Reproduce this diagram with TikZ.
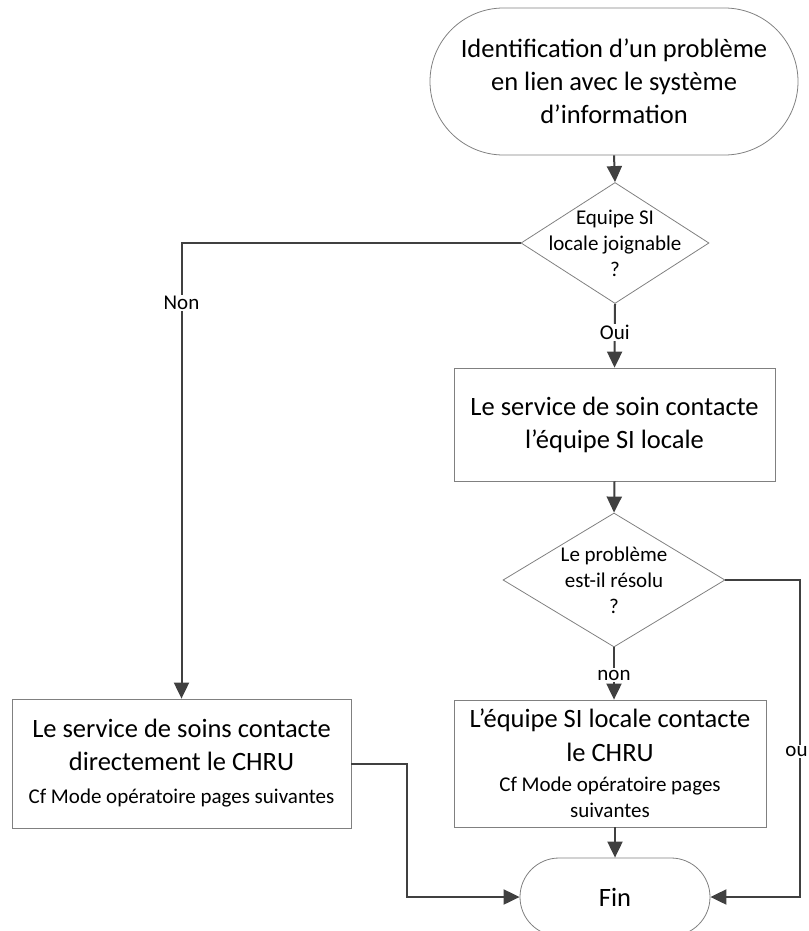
\documentclass[tikz,border=0pt]{standalone}
\usepackage{fontspec}
\setmainfont{Carlito}
\usetikzlibrary{shapes.geometric,shapes.misc,arrows.meta}
\definecolor{lnk}{HTML}{404040}
\definecolor{brd}{HTML}{808080}
\newcommand{\bigtxt}{\fontsize{26.5}{33}\selectfont}
\newcommand{\midtxt}{\fontsize{21}{26}\selectfont}

\begin{document}
\begin{tikzpicture}[x=1pt,y=-1pt,
   term/.style={rounded rectangle,draw=brd,line width=0.8pt,align=center,inner sep=0pt,font=\bigtxt},
   proc/.style={rectangle,draw=brd,line width=0.8pt,align=center,inner sep=0pt,font=\bigtxt},
   choice/.style={diamond,draw=brd,line width=0.8pt,inner sep=0pt},
   flow/.style={draw=lnk,line width=2pt,-{Triangle[width=15pt,length=16pt]}},
   lbl/.style={fill=white,inner sep=1.5pt,font=\midtxt}]
   \useasboundingbox (0,0) rectangle (808,931);
   \clip (0,0) rectangle (808,931);
   % boxes
   \node[term,minimum width=368pt,minimum height=147pt] (start) at (614,81.5)
      {Identification d’un problème\\en lien avec le système\\d’information};
   \node[choice,minimum width=188pt,minimum height=121pt] (d1) at (615,243) {};
   \node[align=center,font=\midtxt] (d1t) at (d1.center) {Equipe SI\\locale joignable\\?};
   \node[proc,minimum width=321pt,minimum height=113pt] (svc) at (614.5,424.5)
      {Le service de soin contacte\\l’équipe SI locale};
   \node[choice,minimum width=222pt,minimum height=134pt] (d2) at (614,580) {};
   \node[align=center,font=\midtxt] (d2t) at (d2.center) {Le problème\\est-il résolu\\?};
   \node[proc,minimum width=339pt,minimum height=129pt] (chru) at (181.5,763.5)
      {Le service de soins contacte\\directement le CHRU\\{\midtxt Cf Mode opératoire pages suivantes}};
   \node[proc,minimum width=312pt,minimum height=127pt] (si) at (610,763.5)
      {L’équipe SI locale contacte\\[1pt]le CHRU\\[-3pt]{\midtxt Cf Mode opératoire pages}\\[-7pt]{\midtxt suivantes}};
   \node[term,minimum width=190pt,minimum height=78pt] (fin) at (615,897) {Fin};
   % turning points
   \coordinate (rgt) at (800,580);
   \coordinate (lft) at (407,763.5);
   % links
   \draw[flow] (start.south) -- (d1.north);
   \draw[flow] (d1.west) -| node[lbl,pos=0.566] (non1) {Non} (chru.north);
   \draw[flow] (d1.south) -- node[lbl,pos=0.45] (oui) {Oui} (svc.north);
   \draw[flow] (svc.south) -- (d2.north);
   \draw[flow] (d2.south) -- node[lbl,pos=0.53] (non2) {non} (d2.south |- si.north);
   \draw[flow] (d2.east) -- (rgt) |- node[lbl,pos=0.27,xshift=-3.5pt,inner xsep=0.5pt] (ou) {ou} (fin.east);
   \draw[flow] (chru.east) -- (lft) |- (fin.west);
   \draw[flow] (si.south -| fin.north) -- (fin.north);
\end{tikzpicture}
\end{document}
